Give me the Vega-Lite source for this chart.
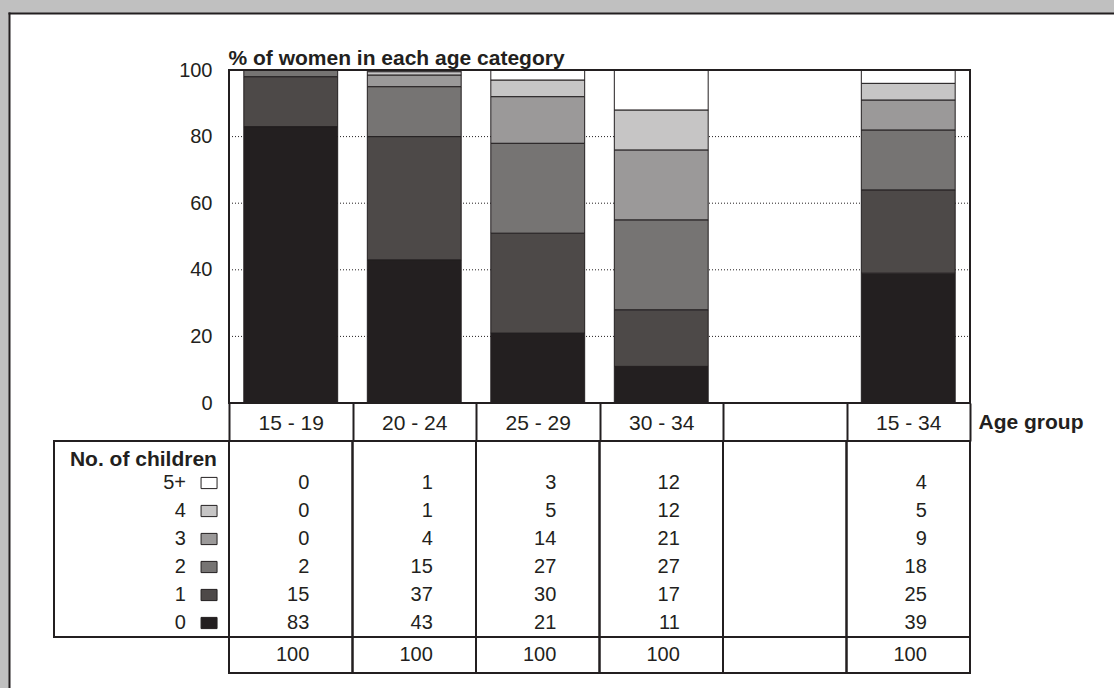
{
  "$schema": "https://vega.github.io/schema/vega-lite/v6.json",
  "width": 1105,
  "height": 675,
  "autosize": "none",
  "padding": {"left": 9, "top": 13, "right": 0, "bottom": 0},
  "background": "#c0c0c0",
  "config": {
    "font": "Liberation Sans",
    "view": {"fill": null, "stroke": null},
    "text": {"color": "#231f20", "font": "Liberation Sans"}
  },
  "datasets": {
    "bars": [
      {"group": "15 - 19", "children": "0", "n": 83, "pct": 83},
      {"group": "15 - 19", "children": "1", "n": 15, "pct": 15},
      {"group": "15 - 19", "children": "2", "n": 2, "pct": 2},
      {"group": "15 - 19", "children": "3", "n": 0, "pct": 0},
      {"group": "15 - 19", "children": "4", "n": 0, "pct": 0},
      {"group": "15 - 19", "children": "5+", "n": 0, "pct": 0},
      {"group": "20 - 24", "children": "0", "n": 43, "pct": 43},
      {"group": "20 - 24", "children": "1", "n": 37, "pct": 37},
      {"group": "20 - 24", "children": "2", "n": 15, "pct": 15},
      {"group": "20 - 24", "children": "3", "n": 4, "pct": 3.5},
      {"group": "20 - 24", "children": "4", "n": 1, "pct": 1},
      {"group": "20 - 24", "children": "5+", "n": 1, "pct": 0.5},
      {"group": "25 - 29", "children": "0", "n": 21, "pct": 21},
      {"group": "25 - 29", "children": "1", "n": 30, "pct": 30},
      {"group": "25 - 29", "children": "2", "n": 27, "pct": 27},
      {"group": "25 - 29", "children": "3", "n": 14, "pct": 14},
      {"group": "25 - 29", "children": "4", "n": 5, "pct": 5},
      {"group": "25 - 29", "children": "5+", "n": 3, "pct": 3},
      {"group": "30 - 34", "children": "0", "n": 11, "pct": 11},
      {"group": "30 - 34", "children": "1", "n": 17, "pct": 17},
      {"group": "30 - 34", "children": "2", "n": 27, "pct": 27},
      {"group": "30 - 34", "children": "3", "n": 21, "pct": 21},
      {"group": "30 - 34", "children": "4", "n": 12, "pct": 12},
      {"group": "30 - 34", "children": "5+", "n": 12, "pct": 12},
      {"group": "15 - 34", "children": "0", "n": 39, "pct": 39},
      {"group": "15 - 34", "children": "1", "n": 25, "pct": 25},
      {"group": "15 - 34", "children": "2", "n": 18, "pct": 18},
      {"group": "15 - 34", "children": "3", "n": 9, "pct": 9},
      {"group": "15 - 34", "children": "4", "n": 5, "pct": 5},
      {"group": "15 - 34", "children": "5+", "n": 4, "pct": 4}
    ],
    "cols": [
      {"group": "15 - 19"}, {"group": "20 - 24"}, {"group": "25 - 29"},
      {"group": "30 - 34"}, {"group": " "}, {"group": "15 - 34"}
    ],
    "totals": [
      {"group": "15 - 19", "total": 100}, {"group": "20 - 24", "total": 100},
      {"group": "25 - 29", "total": 100}, {"group": "30 - 34", "total": 100},
      {"group": "15 - 34", "total": 100}
    ],
    "kids": [
      {"children": "5+"}, {"children": "4"}, {"children": "3"},
      {"children": "2"}, {"children": "1"}, {"children": "0"}
    ],
    "grid": [{"v": 20}, {"v": 40}, {"v": 60}, {"v": 80}]
  },
  "resolve": {"scale": {"x": "independent", "y": "independent", "color": "independent"}},
  "layer": [
    {
      "data": {"values": [{}]},
      "mark": {"type": "rect", "color": "#ffffff"},
      "encoding": {
        "x": {"datum": "panel", "type": "nominal",
              "scale": {"type": "band", "domain": ["panel"], "range": [0, 1105], "paddingInner": 0, "paddingOuter": 0},
              "axis": {"orient": "top", "offset": 0, "domain": true, "domainColor": "#231f20", "domainWidth": 2, "domainCap": "square",
                       "ticks": false, "labels": false, "grid": false, "title": null, "zindex": 1}},
        "y": {"datum": "panel", "type": "nominal",
              "scale": {"type": "band", "domain": ["panel"], "range": [0, 675], "paddingInner": 0, "paddingOuter": 0},
              "axis": {"orient": "left", "offset": 0, "domain": true, "domainColor": "#231f20", "domainWidth": 2, "domainCap": "square",
                       "ticks": false, "labels": false, "grid": false, "title": null, "zindex": 1}}
      }
    },
    {
      "data": {"name": "grid"},
      "mark": {"type": "rule", "color": "#231f20", "strokeWidth": 1, "strokeDash": [1, 2]},
      "encoding": {
        "x": {"datum": "15 - 19", "type": "nominal", "bandPosition": 0,
              "scale": {"type": "band", "domain": ["15 - 19", "20 - 24", "25 - 29", "30 - 34", " ", "15 - 34"], "range": [220, 961], "paddingInner": 0, "paddingOuter": 0}, "axis": null},
        "x2": {"datum": "15 - 34", "bandPosition": 1},
        "y": {"field": "v", "type": "quantitative",
              "scale": {"type": "linear", "domain": [0, 100], "range": [390, 57], "nice": false, "zero": false}, "axis": null}
      }
    },
    {
      "data": {"name": "bars"},
      "mark": {"type": "bar", "width": {"band": 0.76}, "stroke": "#231f20", "strokeWidth": 1},
      "encoding": {
        "x": {"field": "group", "type": "nominal",
              "scale": {"type": "band", "domain": ["15 - 19", "20 - 24", "25 - 29", "30 - 34", " ", "15 - 34"], "range": [220, 961], "paddingInner": 0, "paddingOuter": 0},
              "axis": {"orient": "bottom", "offset": -285, "domain": false, "grid": false, "zindex": 1,
                       "ticks": true, "tickBand": "extent", "tickSize": 38, "tickWidth": 2, "tickColor": "#231f20",
                       "labelAngle": 0, "labelFontSize": 21, "labelColor": "#231f20", "labelBaseline": "middle",
                       "labelPadding": -18, "labelOverlap": false, "labelFlush": false,
                       "title": "Age group", "titleFontSize": 21, "titleFontWeight": "bold", "titleColor": "#231f20",
                       "titleX": 969, "titleY": 19, "titleAlign": "left", "titleBaseline": "middle", "titleAngle": 0}},
        "y": {"field": "pct", "type": "quantitative", "stack": "zero",
              "scale": {"type": "linear", "domain": [0, 100], "range": [390, 57], "nice": false, "zero": false},
              "axis": {"orient": "left", "offset": -220, "values": [0, 20, 40, 60, 80, 100], "zindex": 1,
                       "domain": false, "ticks": false, "tickSize": 0, "grid": false,
                       "labelFontSize": 20, "labelColor": "#231f20", "labelPadding": 17,
                       "title": "% of women in each age category", "titleFontSize": 21, "titleFontWeight": "bold",
                       "titleColor": "#231f20", "titleAngle": 0, "titleAlign": "left", "titleBaseline": "alphabetic",
                       "titleX": -1, "titleY": 51.5}},
        "color": {"field": "children", "type": "nominal",
                  "scale": {"domain": ["0", "1", "2", "3", "4", "5+"], "range": ["#231f20", "#4d4948", "#767473", "#9b9999", "#c6c5c5", "#ffffff"]},
                  "legend": null},
        "order": {"field": "children", "sort": "ascending"}
      }
    },
    {
      "data": {"values": [{}]},
      "mark": {"type": "rect", "filled": false, "color": "#231f20", "strokeWidth": 2},
      "encoding": {
        "x": {"datum": "15 - 19", "type": "nominal", "bandPosition": 0,
              "scale": {"type": "band", "domain": ["15 - 19", "20 - 24", "25 - 29", "30 - 34", " ", "15 - 34"], "range": [220, 961], "paddingInner": 0, "paddingOuter": 0}, "axis": null},
        "x2": {"datum": "15 - 34", "bandPosition": 1},
        "y": {"datum": 0, "type": "quantitative",
              "scale": {"type": "linear", "domain": [0, 100], "range": [390, 57], "nice": false, "zero": false}, "axis": null},
        "y2": {"datum": 100}
      }
    },
    {
      "data": {"name": "cols"},
      "mark": {"type": "rect", "filled": false, "color": "#231f20", "strokeWidth": 2},
      "encoding": {
        "x": {"field": "group", "type": "nominal",
              "scale": {"type": "band", "domain": ["15 - 19", "20 - 24", "25 - 29", "30 - 34", " ", "15 - 34"], "range": [220, 961], "paddingInner": 0, "paddingOuter": 0}, "axis": null},
        "y": {"datum": "No. of children", "type": "nominal", "bandPosition": 0,
              "scale": {"type": "band", "domain": ["No. of children", "5+", "4", "3", "2", "1", "0"], "range": [428, 624], "paddingInner": 0, "paddingOuter": 0}, "axis": null},
        "y2": {"datum": "0", "bandPosition": 1}
      }
    },
    {
      "data": {"name": "bars"},
      "mark": {"type": "text", "align": "right", "baseline": "middle", "fontSize": 20, "color": "#231f20"},
      "encoding": {
        "x": {"field": "group", "type": "nominal", "bandPosition": 0.65,
              "scale": {"type": "band", "domain": ["15 - 19", "20 - 24", "25 - 29", "30 - 34", " ", "15 - 34"], "range": [220, 961], "paddingInner": 0, "paddingOuter": 0}, "axis": null},
        "y": {"field": "children", "type": "nominal",
              "scale": {"type": "band", "domain": ["No. of children", "5+", "4", "3", "2", "1", "0"], "range": [428, 624], "paddingInner": 0, "paddingOuter": 0}, "axis": null},
        "text": {"field": "n", "type": "quantitative"}
      }
    },
    {
      "data": {"name": "cols"},
      "mark": {"type": "rect", "filled": false, "color": "#231f20", "strokeWidth": 2},
      "encoding": {
        "x": {"field": "group", "type": "nominal",
              "scale": {"type": "band", "domain": ["15 - 19", "20 - 24", "25 - 29", "30 - 34", " ", "15 - 34"], "range": [220, 961], "paddingInner": 0, "paddingOuter": 0}, "axis": null},
        "y": {"datum": "Total", "type": "nominal",
              "scale": {"type": "band", "domain": ["Total"], "range": [624, 660], "paddingInner": 0, "paddingOuter": 0}, "axis": null}
      }
    },
    {
      "data": {"name": "totals"},
      "mark": {"type": "text", "align": "right", "baseline": "middle", "fontSize": 20, "color": "#231f20"},
      "encoding": {
        "x": {"field": "group", "type": "nominal", "bandPosition": 0.65,
              "scale": {"type": "band", "domain": ["15 - 19", "20 - 24", "25 - 29", "30 - 34", " ", "15 - 34"], "range": [220, 961], "paddingInner": 0, "paddingOuter": 0}, "axis": null},
        "y": {"datum": "Total", "type": "nominal",
              "scale": {"type": "band", "domain": ["Total"], "range": [624, 660], "paddingInner": 0, "paddingOuter": 0}, "axis": null},
        "text": {"field": "total", "type": "quantitative"}
      }
    },
    {
      "data": {"values": [{}]},
      "mark": {"type": "rect", "filled": false, "color": "#231f20", "strokeWidth": 2},
      "encoding": {
        "x": {"datum": "legend", "type": "nominal",
              "scale": {"type": "band", "domain": ["legend"], "range": [45, 220], "paddingInner": 0, "paddingOuter": 0}, "axis": null},
        "y": {"datum": "No. of children", "type": "nominal", "bandPosition": 0,
              "scale": {"type": "band", "domain": ["No. of children", "5+", "4", "3", "2", "1", "0"], "range": [428, 624], "paddingInner": 0, "paddingOuter": 0}, "axis": null},
        "y2": {"datum": "0", "bandPosition": 1}
      }
    },
    {
      "data": {"name": "kids"},
      "mark": {"type": "point", "shape": "M-1,-0.7H1V0.7H-1Z", "size": 256, "filled": true, "opacity": 1, "stroke": "#231f20", "strokeWidth": 1},
      "encoding": {
        "x": {"datum": "legend", "type": "nominal", "bandPosition": 0.886,
              "scale": {"type": "band", "domain": ["legend"], "range": [45, 220], "paddingInner": 0, "paddingOuter": 0}, "axis": null},
        "y": {"field": "children", "type": "nominal",
              "scale": {"type": "band", "domain": ["No. of children", "5+", "4", "3", "2", "1", "0"], "range": [428, 624], "paddingInner": 0, "paddingOuter": 0}, "axis": null},
        "color": {"field": "children", "type": "nominal",
                  "scale": {"domain": ["0", "1", "2", "3", "4", "5+"], "range": ["#231f20", "#4d4948", "#767473", "#9b9999", "#c6c5c5", "#ffffff"]},
                  "legend": null}
      }
    },
    {
      "data": {"name": "kids"},
      "mark": {"type": "text", "align": "right", "baseline": "middle", "fontSize": 20, "color": "#231f20"},
      "encoding": {
        "x": {"datum": "legend", "type": "nominal", "bandPosition": 0.754,
              "scale": {"type": "band", "domain": ["legend"], "range": [45, 220], "paddingInner": 0, "paddingOuter": 0}, "axis": null},
        "y": {"field": "children", "type": "nominal",
              "scale": {"type": "band", "domain": ["No. of children", "5+", "4", "3", "2", "1", "0"], "range": [428, 624], "paddingInner": 0, "paddingOuter": 0}, "axis": null},
        "text": {"field": "children", "type": "nominal"}
      }
    },
    {
      "data": {"values": [{}]},
      "mark": {"type": "text", "text": "No. of children", "align": "right", "baseline": "middle", "fontSize": 21, "fontWeight": "bold", "color": "#231f20"},
      "encoding": {
        "x": {"datum": "legend", "type": "nominal", "bandPosition": 0.931,
              "scale": {"type": "band", "domain": ["legend"], "range": [45, 220], "paddingInner": 0, "paddingOuter": 0}, "axis": null},
        "y": {"datum": "No. of children", "type": "nominal", "bandPosition": 0.68,
              "scale": {"type": "band", "domain": ["No. of children", "5+", "4", "3", "2", "1", "0"], "range": [428, 624], "paddingInner": 0, "paddingOuter": 0}, "axis": null}
      }
    }
  ]
}
